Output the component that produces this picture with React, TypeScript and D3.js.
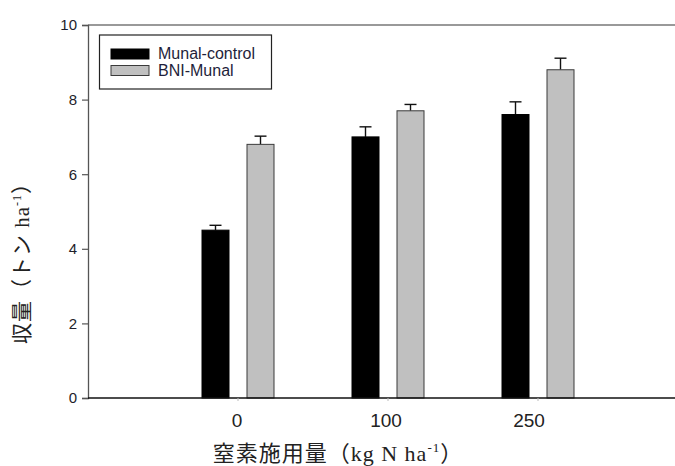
import * as d3 from 'd3';
import { useEffect, useRef } from 'react';

// 窒素施用量 (kg N/ha)
const categories = ['0', '100', '250'];
const seriesNames = ['Munal-control', 'BNI-Munal'];
const controlMeans = [4.5, 7.0, 7.6];
const controlErrors = [0.13, 0.27, 0.34];
const bniMeans = [6.8, 7.7, 8.8];
const bniErrors = [0.22, 0.17, 0.31];
const yTicks = [0, 2, 4, 6, 8, 10];

const App = () => {
    const ref = useRef<SVGSVGElement>(null);

    useEffect(() => {
        const svg = d3.select(ref.current);
        svg.selectAll('*').remove();

        const left = 88, right = 688, top = 25, bottom = 398;

        // categories sit at 1,2,3 on a 0..4 axis (picture is cropped on the right)
        const xScale = d3.scaleLinear().domain([0, 4]).range([left, right]);
        const yScale = d3.scaleLinear().domain([0, 10]).range([bottom, top]);

        const barW = 27;
        const offsets = [-36, 9];
        const fills = ['#000000', '#c0c0c0'];
        const strokes = ['#000000', '#3a3a3a'];
        const means = [controlMeans, bniMeans];
        const errs = [controlErrors, bniErrors];

        // frame lines
        svg.append('line')
            .attr('x1', left).attr('x2', 675)
            .attr('y1', top).attr('y2', top)
            .attr('stroke', '#777').attr('stroke-width', 1.3);

        // bars + error bars
        means.forEach((vals, s) => {
            const g = svg.append('g');
            vals.forEach((v, i) => {
                const x0 = xScale(i + 1) + offsets[s];
                const cx = x0 + barW / 2;
                const eTop = yScale(v + errs[s][i]);
                g.append('line')
                    .attr('x1', cx).attr('x2', cx)
                    .attr('y1', yScale(v)).attr('y2', eTop)
                    .attr('stroke', '#111').attr('stroke-width', 1.4);
                g.append('line')
                    .attr('x1', cx - 6).attr('x2', cx + 6)
                    .attr('y1', eTop).attr('y2', eTop)
                    .attr('stroke', '#111').attr('stroke-width', 1.4);
                g.append('rect')
                    .attr('x', x0)
                    .attr('y', yScale(v))
                    .attr('width', barW)
                    .attr('height', yScale(0) - yScale(v))
                    .attr('fill', fills[s])
                    .attr('stroke', strokes[s])
                    .attr('stroke-width', 1);
            });
        });

        // y axis
        const yAxis = d3.axisLeft(yScale).tickValues(yTicks).tickSize(6).tickPadding(5);
        const yg = svg.append('g')
            .attr('transform', `translate(${left}, 0)`)
            .call(yAxis);
        yg.select('.domain').attr('stroke', '#555').attr('stroke-width', 1.3);
        yg.selectAll('.tick line').attr('stroke', '#555').attr('stroke-width', 1.2);
        yg.selectAll('.tick text')
            .attr('font-family', 'Liberation Sans, Arial, sans-serif')
            .attr('font-size', 15)
            .attr('fill', '#1e1e2a');

        // x axis
        svg.append('line')
            .attr('x1', left).attr('x2', 675)
            .attr('y1', bottom).attr('y2', bottom)
            .attr('stroke', '#111').attr('stroke-width', 1.4);
        svg.selectAll('.xtick')
            .data(categories)
            .enter().append('line')
            .attr('x1', (d, i) => xScale(i + 1)).attr('x2', (d, i) => xScale(i + 1))
            .attr('y1', bottom).attr('y2', bottom + 3)
            .attr('stroke', '#bbb');
        svg.selectAll('.xlabel')
            .data(categories)
            .enter().append('text')
            .attr('x', (d, i) => xScale(i + 1) - (i === 2 ? 9 : i === 1 ? 2 : 1))
            .attr('y', 427)
            .attr('text-anchor', 'middle')
            .attr('font-family', 'Liberation Sans, Arial, sans-serif')
            .attr('font-size', 19)
            .attr('fill', '#222')
            .text(d => d);

        // axis titles
        const xt = svg.append('text')
            .attr('x', 338).attr('y', 461)
            .attr('text-anchor', 'middle')
            .attr('font-family', 'Liberation Serif, Noto Sans CJK JP, serif')
            .attr('font-size', 22)
            .attr('letter-spacing', 1)
            .attr('fill', '#222');
        xt.append('tspan').text('窒素施用量（kg N ha');
        xt.append('tspan').attr('font-size', 13).attr('dy', -9).text('-1');
        xt.append('tspan').attr('dy', 9).text('）');

        const yt = svg.append('text')
            .attr('transform', 'translate(29, 258) rotate(-90)')
            .attr('text-anchor', 'middle')
            .attr('font-family', 'Liberation Serif, Noto Sans CJK JP, serif')
            .attr('font-size', 21)
            .attr('letter-spacing', 1)
            .attr('fill', '#222');
        yt.append('tspan').text('収量（トン ha');
        yt.append('tspan').attr('font-size', 12).attr('dy', -8).text('-1');
        yt.append('tspan').attr('dy', 8).text('）');

        // legend
        const lg = svg.append('g');
        lg.append('rect')
            .attr('x', 99.5).attr('y', 35)
            .attr('width', 172).attr('height', 54)
            .attr('fill', '#fff').attr('stroke', '#222').attr('stroke-width', 1.2);
        seriesNames.forEach((name, s) => {
            lg.append('rect')
                .attr('x', 111).attr('y', 49 + s * 16.5)
                .attr('width', 38).attr('height', 10)
                .attr('fill', fills[s]).attr('stroke', strokes[s]);
            lg.append('text')
                .attr('x', 158).attr('y', 59 + s * 16.5)
                .attr('font-family', 'Liberation Sans, Arial, sans-serif')
                .attr('font-size', 16)
                .attr('fill', '#1e1e3a')
                .text(name);
        });
    }, []);

    return <svg ref={ref} width="675" height="466"
        style={{ position: 'absolute', left: 0, top: 0, background: '#fff' }}></svg>;
};

export default App;
